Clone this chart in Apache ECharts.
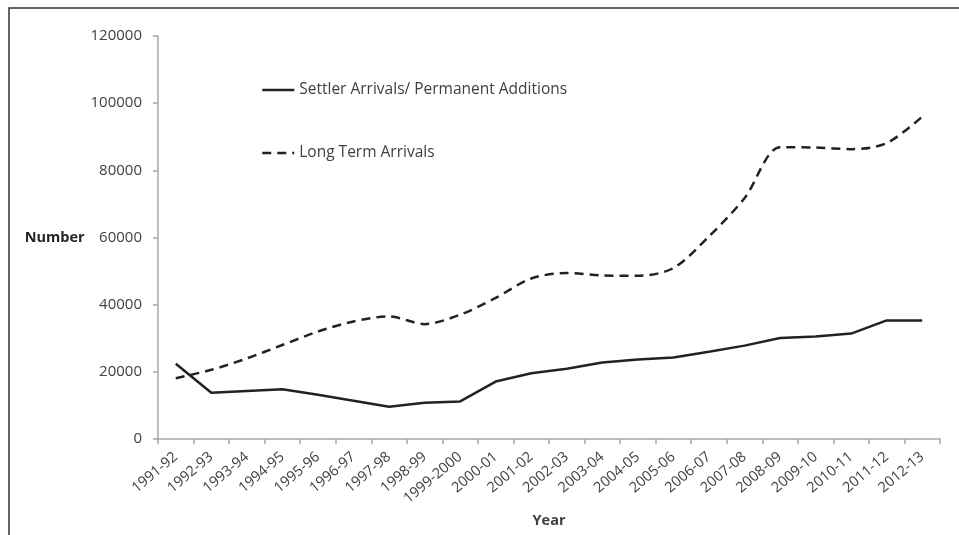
<!DOCTYPE html>
<html>
<head>
<meta charset="utf-8">
<script src="https://cdn.jsdelivr.net/npm/echarts@6/dist/echarts.min.js"></script>
<style>
  html, body { margin: 0; padding: 0; background: #fff; }
  #chart { width: 959px; height: 535px; }
</style>
</head>
<body>
<div id="chart"></div>
<script>
const years = ['1991-92', '1992-93', '1993-94', '1994-95', '1995-96', '1996-97', '1997-98', '1998-99',
  '1999-2000', '2000-01', '2001-02', '2002-03', '2003-04', '2004-05', '2005-06', '2006-07',
  '2007-08', '2008-09', '2009-10', '2010-11', '2011-12', '2012-13'];

const settlerArrivals = [22400, 13800, 14300, 14800, 13200, 11400, 9600, 10800,
  11200, 17100, 19600, 20900, 22800, 23700, 24300, 26000,
  27800, 30100, 30500, 31400, 35300, 35300];

const longTermArrivals = [18100, 20600, 24000, 28000, 32000, 35000, 36500, 34200,
  37000, 42000, 47800, 49400, 48700, 48600, 50900, 60300,
  71700, 86900, 86800, 86300, 88100, 96000];

const yTicks = [0, 120000, 20000]; // min, max, interval

const chart = echarts.init(document.getElementById('chart'));

const font = '"Open Sans", sans-serif';

const option = {
  animation: false,
  // frame of the original figure (top and left edges)
  graphic: [{
    type: 'polyline',
    shape: { points: [[9, 535], [9, 8], [959, 8]] },
    style: { stroke: '#333', lineWidth: 1.5, fill: null }
  }],
  legend: {
    orient: 'vertical',
    left: 256,
    top: 77,
    itemWidth: 32,
    itemHeight: 14,
    itemGap: 47,
    itemStyle: { opacity: 0 },
    lineStyle: { width: 2.5 },
    textStyle: { fontFamily: font, fontSize: 15.5, color: '#404040' },
    data: ['Settler Arrivals/ Permanent Additions', 'Long Term Arrivals']
  },
  grid: {
    left: 158,
    right: 19,
    top: 36,
    bottom: 96
  },
  xAxis: {
    type: 'category',
    data: years,
    boundaryGap: true,
    name: 'Year',
    nameLocation: 'middle',
    nameGap: 72,
    nameTextStyle: { fontFamily: font, fontSize: 14.5, fontWeight: 'bold', color: '#404040' },
    axisLine: { lineStyle: { color: '#a6a6a6', width: 1.5 } },
    axisTick: { show: true, length: 5, alignWithLabel: false, lineStyle: { color: '#a6a6a6', width: 1.5 } },
    axisLabel: {
      interval: 0,
      rotate: 40,
      margin: 16,
      fontFamily: font,
      fontSize: 14.5,
      color: '#404040'
    },
    splitLine: { show: false }
  },
  yAxis: {
    type: 'value',
    min: yTicks[0],
    max: yTicks[1],
    interval: yTicks[2],
    name: 'Number',
    nameLocation: 'middle',
    nameRotate: 0,
    nameGap: 71,
    nameTextStyle: { fontFamily: font, fontSize: 14.5, fontWeight: 'bold', color: '#262626' },
    axisLine: { show: true, lineStyle: { color: '#a6a6a6', width: 1.5 } },
    axisTick: { show: true, length: 5, lineStyle: { color: '#a6a6a6', width: 1.5 } },
    axisLabel: {
      margin: 16,
      fontFamily: font,
      fontSize: 15,
      color: '#404040',
      formatter: function (v) { return String(v); }
    },
    splitLine: { show: false }
  },
  series: [
    {
      name: 'Settler Arrivals/ Permanent Additions',
      type: 'line',
      data: settlerArrivals,
      symbol: 'none',
      lineStyle: { color: '#222', width: 2.5 },
      itemStyle: { color: '#222' }
    },
    {
      name: 'Long Term Arrivals',
      type: 'line',
      data: longTermArrivals,
      symbol: 'none',
      smooth: 0.3,
      lineStyle: { color: '#222', width: 2.5, type: [9, 6] },
      itemStyle: { color: '#222' }
    }
  ]
};

chart.setOption(option);
</script>
</body>
</html>
